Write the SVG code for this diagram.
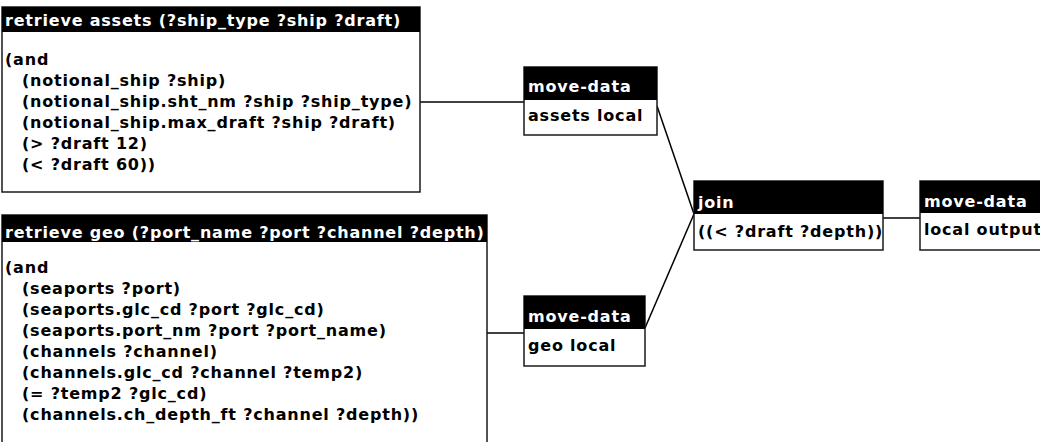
<svg xmlns="http://www.w3.org/2000/svg" width="1040" height="442" viewBox="0 0 1040 442">
  <style>
    .box { fill: #ffffff; stroke: #1a1a1a; stroke-width: 1.5; }
    .hdr { fill: #000000; }
    .t { font-family: "DejaVu Sans", "Liberation Sans", sans-serif; font-weight: bold; font-size: 16px; letter-spacing: 0.8px; }
    .th { fill: #ffffff; }
    .tb { fill: #000000; }
    .edge { fill: none; stroke: #000000; stroke-width: 1.5; }
  </style>

  <!-- connectors -->
  <g id="connectors">
    <line class="edge" x1="420" y1="102" x2="524" y2="102"/>
    <line class="edge" x1="487" y1="333" x2="524" y2="333"/>
    <line class="edge" x1="657" y1="106" x2="694" y2="214"/>
    <line class="edge" x1="645" y1="328" x2="694" y2="214"/>
    <line class="edge" x1="883" y1="218" x2="920" y2="218"/>
  </g>

  <!-- retrieve assets query -->
  <g id="retrieve-assets">
    <rect class="box" x="2" y="7" width="418" height="185"/>
    <rect class="hdr" x="2" y="7" width="418" height="25"/>
    <text class="t th" x="5" y="26">retrieve assets (?ship_type ?ship ?draft)</text>
    <text class="t tb" x="5" y="65">(and</text>
    <text class="t tb" x="22" y="86">(notional_ship ?ship)</text>
    <text class="t tb" x="22" y="107">(notional_ship.sht_nm ?ship ?ship_type)</text>
    <text class="t tb" x="22" y="128">(notional_ship.max_draft ?ship ?draft)</text>
    <text class="t tb" x="22" y="149">(&gt; ?draft 12)</text>
    <text class="t tb" x="22" y="170">(&lt; ?draft 60))</text>
  </g>

  <!-- retrieve geo query -->
  <g id="retrieve-geo">
    <rect class="box" x="2" y="215" width="485" height="232"/>
    <rect class="hdr" x="2" y="215" width="485" height="27"/>
    <text class="t th" x="5" y="238">retrieve geo (?port_name ?port ?channel ?depth)</text>
    <text class="t tb" x="5" y="273">(and</text>
    <text class="t tb" x="22" y="294">(seaports ?port)</text>
    <text class="t tb" x="22" y="315">(seaports.glc_cd ?port ?glc_cd)</text>
    <text class="t tb" x="22" y="336">(seaports.port_nm ?port ?port_name)</text>
    <text class="t tb" x="22" y="357">(channels ?channel)</text>
    <text class="t tb" x="22" y="378">(channels.glc_cd ?channel ?temp2)</text>
    <text class="t tb" x="22" y="399">(= ?temp2 ?glc_cd)</text>
    <text class="t tb" x="22" y="420">(channels.ch_depth_ft ?channel ?depth))</text>
  </g>

  <!-- move-data: assets local -->
  <g id="move-assets">
    <rect class="box" x="524" y="67" width="133" height="68"/>
    <rect class="hdr" x="524" y="67" width="133" height="33"/>
    <text class="t th" x="528" y="92">move-data</text>
    <text class="t tb" x="528" y="121">assets local</text>
  </g>

  <!-- move-data: geo local -->
  <g id="move-geo">
    <rect class="box" x="524" y="296" width="121" height="70"/>
    <rect class="hdr" x="524" y="296" width="121" height="33"/>
    <text class="t th" x="528" y="322">move-data</text>
    <text class="t tb" x="528" y="351">geo local</text>
  </g>

  <!-- join -->
  <g id="join">
    <rect class="box" x="694" y="181" width="189" height="69"/>
    <rect class="hdr" x="694" y="181" width="189" height="33"/>
    <text class="t th" x="698" y="208">join</text>
    <text class="t tb" x="698" y="237">((&lt; ?draft ?depth))</text>
  </g>

  <!-- move-data: local output -->
  <g id="move-output">
    <rect class="box" x="920" y="181" width="130" height="69"/>
    <rect class="hdr" x="920" y="181" width="130" height="32"/>
    <text class="t th" x="924" y="207">move-data</text>
    <text class="t tb" x="924" y="235">local output</text>
  </g>
</svg>
